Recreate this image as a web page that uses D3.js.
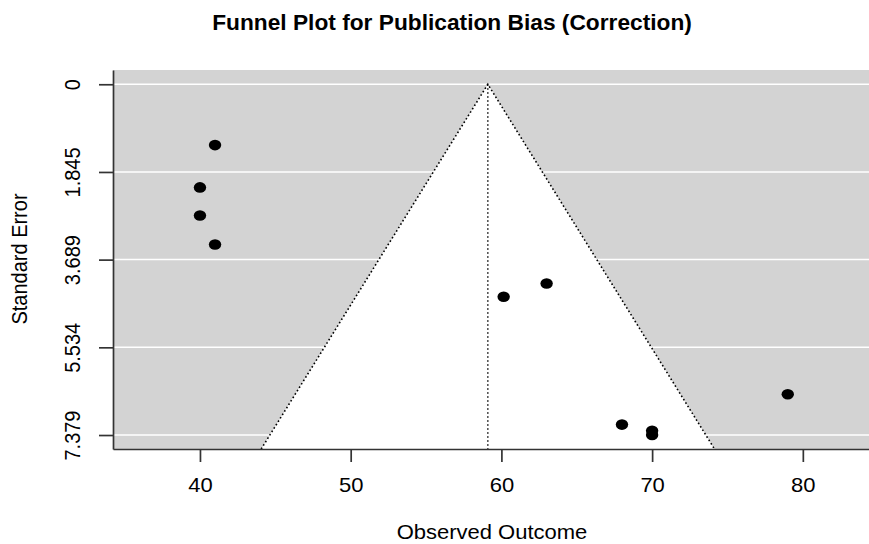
<!DOCTYPE html>
<html>
<head>
<meta charset="utf-8">
<script src="https://cdn.jsdelivr.net/npm/d3@7"></script>
<style>
  body { margin: 0; background: #fff; }
  svg { display: block; font-family: "Liberation Sans", Arial, Helvetica, sans-serif; }
</style>
</head>
<body>
<div id="chart"></div>
<script>
// observed outcomes and their standard errors
const outcomes = [41, 40, 40, 41, 60.15, 63, 68, 70, 70, 79];
const stdErrors = [1.28, 2.17, 2.76, 3.37, 4.47, 4.19, 7.16, 7.29, 7.38, 6.52];

// pooled estimate and funnel limits
const pooledEstimate = 59.1;
const zCrit = 1.96;

const xTicks = [40, 50, 60, 70, 80];
const yTicks = [0, 1.845, 3.689, 5.534, 7.379];
const yTickLabels = ['0', '1.845', '3.689', '5.534', '7.379'];

const width = 869, height = 544;
const plot = { left: 113, right: 869, top: 70, bottom: 449 };
const stretch = 1.1; // text in the reference is a little wider than tall

const colors = {
  panel: '#d3d3d3',
  grid: '#ffffff',
  axis: '#333333',
  funnel: '#ffffff',
  point: '#000000'
};

const svg = d3.select('#chart').append('svg')
  .attr('width', width)
  .attr('height', height);

const x = d3.scaleLinear().domain([34.23, 84.39]).range([plot.left, plot.right]);
const y = d3.scaleLinear().domain([-0.3, 7.673]).range([plot.top, plot.bottom]);
const seMax = y.domain()[1];

// gray panel
svg.append('rect')
  .attr('x', plot.left).attr('y', plot.top)
  .attr('width', plot.right - plot.left)
  .attr('height', plot.bottom - plot.top)
  .attr('fill', colors.panel);

// horizontal reference lines
svg.append('g').selectAll('line')
  .data(yTicks)
  .join('line')
  .attr('x1', plot.left).attr('x2', plot.right)
  .attr('y1', d => y(d)).attr('y2', d => y(d))
  .attr('stroke', colors.grid)
  .attr('stroke-width', 1.5);

// funnel region
const funnelPts = [
  [pooledEstimate - zCrit * seMax, seMax],
  [pooledEstimate, 0],
  [pooledEstimate + zCrit * seMax, seMax]
];
const funnelLine = d3.line().x(d => x(d[0])).y(d => y(d[1]));

svg.append('path')
  .attr('d', funnelLine(funnelPts) + 'Z')
  .attr('fill', colors.funnel);

svg.append('path')
  .attr('d', funnelLine(funnelPts))
  .attr('fill', 'none')
  .attr('stroke', '#000')
  .attr('stroke-width', 1.6)
  .attr('stroke-dasharray', '1.6,2.4');

svg.append('line')
  .attr('x1', x(pooledEstimate)).attr('x2', x(pooledEstimate))
  .attr('y1', y(0)).attr('y2', y(seMax))
  .attr('stroke', '#000')
  .attr('stroke-width', 1.4)
  .attr('stroke-dasharray', '1.6,2.4');

// studies
svg.append('g').selectAll('ellipse')
  .data(outcomes.map((o, i) => ({ o, se: stdErrors[i] })))
  .join('ellipse')
  .attr('cx', d => x(d.o))
  .attr('cy', d => y(d.se))
  .attr('rx', 6.2)
  .attr('ry', 5.3)
  .attr('fill', colors.point);

// axes
const xAxis = svg.append('g')
  .attr('transform', `translate(0,${plot.bottom})`)
  .call(d3.axisBottom(x).tickValues(xTicks).tickSize(13).tickSizeOuter(0));

const yAxis = svg.append('g')
  .attr('transform', `translate(${plot.left},0)`)
  .call(d3.axisLeft(y).tickValues(yTicks).tickSize(14).tickSizeOuter(0)
    .tickFormat((d, i) => yTickLabels[i]));

[xAxis, yAxis].forEach(g => {
  g.select('.domain').attr('stroke', colors.axis).attr('stroke-width', 1.7);
  g.selectAll('.tick line').attr('stroke', colors.axis).attr('stroke-width', 1.7);
  g.selectAll('.tick text')
    .attr('fill', '#000')
    .style('font-size', '20px')
    .style('font-family', '"Liberation Sans", Arial, sans-serif');
});

xAxis.selectAll('.tick text')
  .attr('y', 0).attr('dy', 0)
  .attr('transform', `translate(0,${492 - plot.bottom}) scale(${stretch},1)`);

yAxis.selectAll('.tick text')
  .attr('x', 0).attr('dy', 0)
  .attr('text-anchor', 'middle')
  .attr('transform', `translate(-33,0) scale(${stretch},1) rotate(-90)`);

// titles
svg.append('text')
  .attr('transform', `translate(452,30) scale(1.01,1)`)
  .attr('text-anchor', 'middle')
  .style('font-size', '22.5px')
  .style('font-weight', 'bold')
  .text('Funnel Plot for Publication Bias (Correction)');

svg.append('text')
  .attr('transform', `translate(492,539) scale(${stretch},1)`)
  .attr('text-anchor', 'middle')
  .style('font-size', '20px')
  .text('Observed Outcome');

svg.append('text')
  .attr('transform', `translate(27,259) scale(${stretch},1) rotate(-90)`)
  .attr('text-anchor', 'middle')
  .style('font-size', '20px')
  .text('Standard Error');
</script>
</body>
</html>
